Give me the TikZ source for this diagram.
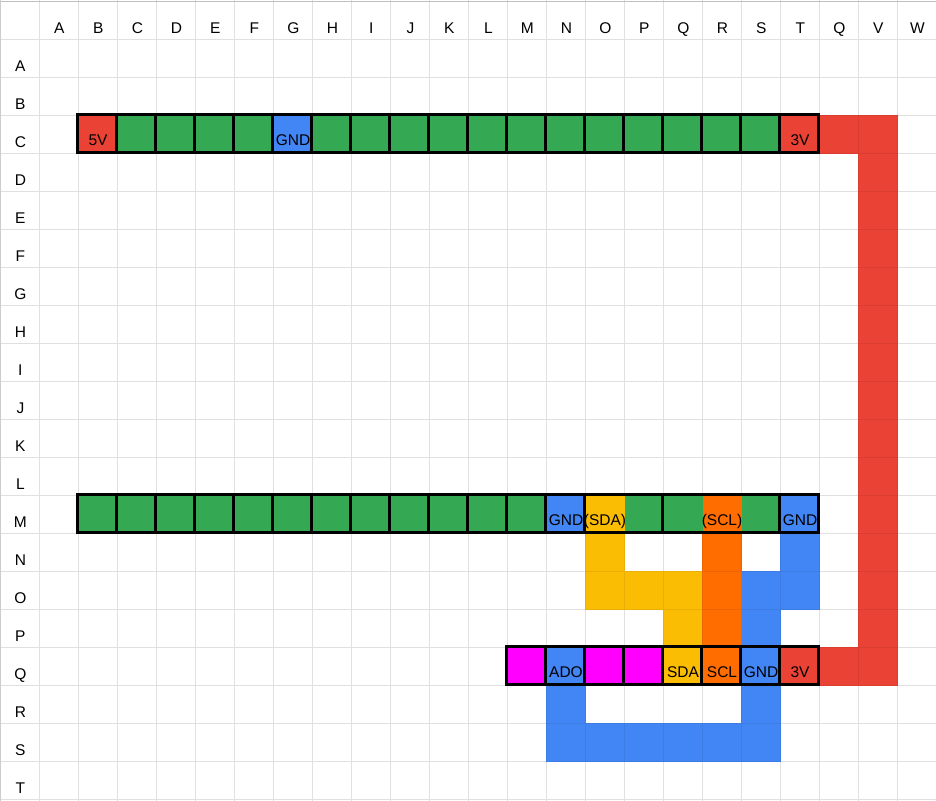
\documentclass[tikz,border=0pt]{standalone}
\usepackage{fontspec}
\setmainfont{Liberation Sans}
\definecolor{gred}{HTML}{EA4335}
\definecolor{ggreen}{HTML}{34A853}
\definecolor{gblue}{HTML}{4285F4}
\definecolor{gyellow}{HTML}{FBBC04}
\definecolor{gorange}{HTML}{FF6D01}
\definecolor{gmagenta}{HTML}{FF00FF}
\definecolor{gridgray}{HTML}{E0E0E0}
\newcommand{\wirecell}[3]{\fill[#3] (#1,#2) rectangle +(1,1);\draw[#3!93!black,line width=0.6pt] (#1,#2) rectangle +(1,1);}
\newcommand{\pincell}[3]{\fill[#3] (#1,#2) rectangle +(1,1);}
\tikzset{
  gridline/.style={gridgray,line width=1pt},
  pinframe/.style={black,line width=3.2pt,shift={(-0.8pt,0.8pt)}},
  head/.style={anchor=base,inner sep=0pt,font=\fontsize{15.5pt}{18pt}\selectfont,text=black},
  pinlabel/.style={anchor=base,inner sep=0pt,font=\fontsize{15.5pt}{18pt}\selectfont,text=black}
}
\begin{document}
\begin{tikzpicture}[x=39pt,y=-38pt]
\useasboundingbox (-39.5pt,39.5pt) rectangle (896.5pt,-760.5pt);
\fill[white] (-39.5pt,39.5pt) rectangle (896.5pt,-760.5pt);
% grid
\foreach \k in {-1,...,22} \draw[gridline] (\k,-1.03) -- (\k,20.05);
\foreach \r in {0,...,20} \draw[gridline] (-1.02,\r) -- (23,\r);
\draw[gray!50,line width=1pt] (-1.02,-1) -- (23,-1);
\draw[gray!40,line width=1pt] (-1,-1.03) -- (-1,20.05);
% top row
\foreach \k in {1,...,19} {\pincell{\k}{2}{ggreen}}
\pincell{1}{2}{gred}\pincell{6}{2}{gblue}\pincell{19}{2}{gred}
% middle row
\foreach \k in {1,...,19} {\pincell{\k}{12}{ggreen}}
\pincell{13}{12}{gblue}\pincell{14}{12}{gyellow}\pincell{17}{12}{gorange}\pincell{19}{12}{gblue}
% bottom row
\pincell{12}{16}{gmagenta}\pincell{13}{16}{gblue}\pincell{14}{16}{gmagenta}\pincell{15}{16}{gmagenta}
\pincell{16}{16}{gyellow}\pincell{17}{16}{gorange}\pincell{18}{16}{gblue}\pincell{19}{16}{gred}
% red wire
\wirecell{20}{2}{gred}
\foreach \r in {2,...,16} {\wirecell{21}{\r}{gred}}
\wirecell{20}{16}{gred}
% yellow wire
\wirecell{14}{13}{gyellow}\wirecell{14}{14}{gyellow}\wirecell{15}{14}{gyellow}\wirecell{16}{14}{gyellow}\wirecell{16}{15}{gyellow}
% blue wire from GND
\wirecell{19}{13}{gblue}\wirecell{19}{14}{gblue}\wirecell{18}{14}{gblue}\wirecell{18}{15}{gblue}
% orange wire
\wirecell{17}{13}{gorange}\wirecell{17}{14}{gorange}\wirecell{17}{15}{gorange}
% blue wire ADO to GND
\wirecell{13}{17}{gblue}\wirecell{18}{17}{gblue}
\foreach \k in {13,...,18} {\wirecell{\k}{18}{gblue}}
% pin frames
\draw[pinframe] (1,2) rectangle (20,3);
\foreach \k in {2,...,19} {\draw[pinframe] (\k,2) -- (\k,3);}
\draw[pinframe] (1,12) rectangle (20,13);
\foreach \k in {2,...,14,16,19} {\draw[pinframe] (\k,12) -- (\k,13);}
\draw[pinframe] (12,16) rectangle (20,17);
\foreach \k in {13,...,19} {\draw[pinframe] (\k,16) -- (\k,17);}
% column headings
\foreach \k/\t in {0/A,1/B,2/C,3/D,4/E,5/F,6/G,7/H,8/I,9/J,10/K,11/L,12/M,13/N,14/O,15/P,16/Q,17/R,18/S,19/T,20/Q,21/V,22/W}
  \node[head] (col\k) at (\k+0.51,-0.17) {\t};
% row headings
\foreach \r/\t in {0/A,1/B,2/C,3/D,4/E,5/F,6/G,7/H,8/I,9/J,10/K,11/L,12/M,13/N,14/O,15/P,16/Q,17/R,18/S,19/T}
  \node[head] (row\r) at (-0.49,\r+0.83) {\t};
% pin labels
\node[pinlabel] (p5v) at (1.5,2.79) {5V};
\node[pinlabel] (pgnda) at (6.5,2.79) {GND};
\node[pinlabel] (p3va) at (19.5,2.79) {3V};
\node[pinlabel] (pgndb) at (13.5,12.79) {GND};
\node[pinlabel] (psdaa) at (14.5,12.79) {(SDA)};
\node[pinlabel] (pscla) at (17.5,12.79) {(SCL)};
\node[pinlabel] (pgndc) at (19.5,12.79) {GND};
\node[pinlabel] (pado) at (13.5,16.79) {ADO};
\node[pinlabel] (psdab) at (16.5,16.79) {SDA};
\node[pinlabel] (psclb) at (17.5,16.79) {SCL};
\node[pinlabel] (pgndd) at (18.5,16.79) {GND};
\node[pinlabel] (p3vb) at (19.5,16.79) {3V};
\end{tikzpicture}
\end{document}
